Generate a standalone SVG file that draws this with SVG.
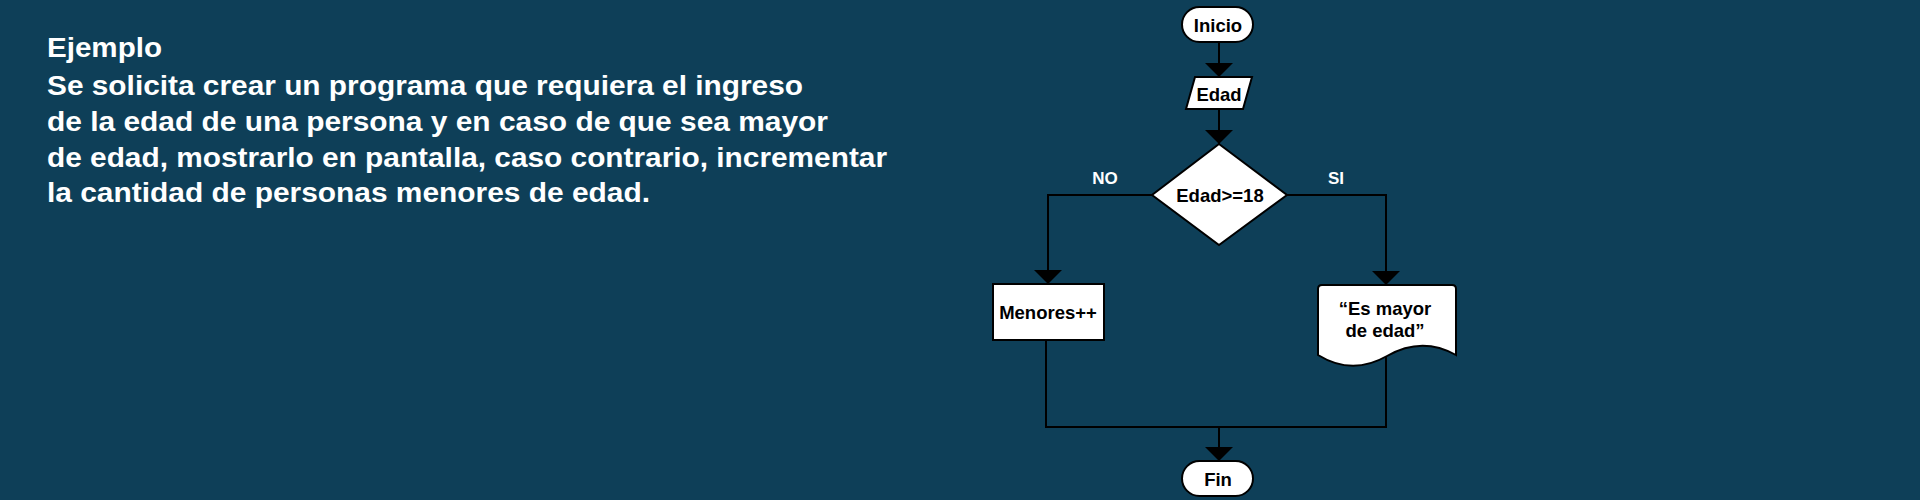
<svg xmlns="http://www.w3.org/2000/svg" width="1920" height="500" viewBox="0 0 1920 500">
<style>
.desc{font-family:"Liberation Sans",Arial,sans-serif;font-weight:bold;font-size:27px;fill:#ffffff}
.lbl{font-family:"Liberation Sans",Arial,sans-serif;font-weight:bold;font-size:17px;fill:#ffffff;text-anchor:middle}
.nt{font-family:"Liberation Sans",Arial,sans-serif;font-weight:bold;font-size:18.5px;fill:#000000;text-anchor:middle}
.shape{fill:#ffffff;stroke:#000000;stroke-width:2}
.conn{fill:none;stroke:#000000;stroke-width:2}
</style>
<defs>
<marker id="arrow" viewBox="0 0 14 28" refX="14" refY="14" markerWidth="14" markerHeight="28" markerUnits="userSpaceOnUse" orient="auto">
<path d="M0,0 L14,14 L0,28 z" fill="#000000"/>
</marker>
</defs>
<rect x="0" y="0" width="1920" height="500" fill="#0e3f58"/>
<g id="description">
<text class="desc" x="47" y="57" textLength="115" lengthAdjust="spacingAndGlyphs">Ejemplo</text>
<text class="desc" x="47" y="95" textLength="756" lengthAdjust="spacingAndGlyphs">Se solicita crear un programa que requiera el ingreso</text>
<text class="desc" x="47" y="131" textLength="781" lengthAdjust="spacingAndGlyphs">de la edad de una persona y en caso de que sea mayor</text>
<text class="desc" x="47" y="167" textLength="840" lengthAdjust="spacingAndGlyphs">de edad, mostrarlo en pantalla, caso contrario, incrementar</text>
<text class="desc" x="47" y="202" textLength="603" lengthAdjust="spacingAndGlyphs">la cantidad de personas menores de edad.</text>
</g>
<g id="connectors">
<path class="conn" d="M1219,42 V77" marker-end="url(#arrow)"/>
<path class="conn" d="M1219,109 V144" marker-end="url(#arrow)"/>
<path class="conn" d="M1152,195 H1048 V284" marker-end="url(#arrow)"/>
<path class="conn" d="M1287,195 H1386 V285" marker-end="url(#arrow)"/>
<path class="conn" d="M1046,340 V427 H1386 V357"/>
<path class="conn" d="M1219,427 V461" marker-end="url(#arrow)"/>
<text class="lbl" x="1105" y="184">NO</text>
<text class="lbl" x="1336" y="184">SI</text>
</g>
<g id="inicio">
<rect class="shape" x="1182" y="7" width="71" height="35" rx="17.5" ry="17.5"/>
<text class="nt" x="1218" y="32">Inicio</text>
</g>
<g id="edad">
<polygon class="shape" points="1195,77 1252,77 1243,109 1186,109"/>
<text class="nt" x="1219" y="101">Edad</text>
</g>
<g id="decision">
<polygon class="shape" points="1219,144 1287,195 1219,245 1152,195"/>
<text class="nt" x="1220" y="202">Edad&gt;=18</text>
</g>
<g id="menores">
<rect class="shape" x="993" y="284" width="111" height="56"/>
<text class="nt" x="1048" y="319">Menores++</text>
</g>
<g id="mayor">
<path class="shape" d="M1322,285 H1452 Q1456,285 1456,289 V355 Q1422,336 1387,356 Q1352,376 1318,355 V289 Q1318,285 1322,285 Z"/>
<text class="nt" x="1385" y="315">“Es mayor</text>
<text class="nt" x="1385" y="337">de edad”</text>
</g>
<g id="fin">
<rect class="shape" x="1182" y="461" width="71" height="35" rx="17.5" ry="17.5"/>
<text class="nt" x="1218" y="486">Fin</text>
</g>
</svg>
